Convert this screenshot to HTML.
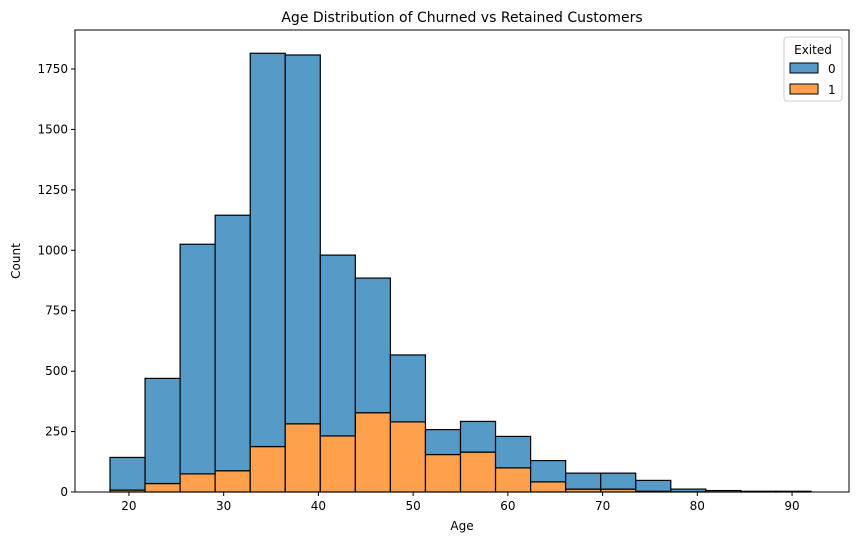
<!DOCTYPE html>
<html><head><meta charset="utf-8"><style>
body{margin:0;background:#fff;font-family:"Liberation Sans","DejaVu Sans",sans-serif;}
svg text{font-family:"DejaVu Sans","Liberation Sans",sans-serif;}
</style></head><body>
<svg id="c" width="859" height="545" xmlns="http://www.w3.org/2000/svg"></svg>
<script>
const binStart = 18, binEnd = 92, binCount = 20;
const retained = [135,435,950,1057,1627,1526,748,557,277,103,127,130,88,66,66,45,11,6,3,3];
const churned = [8,35,75,88,188,282,232,328,290,155,165,100,42,12,12,3,1,0,0,0];
const xTicks = [20,30,40,50,60,70,80,90];
const yTicks = [0,250,500,750,1000,1250,1500,1750];
const L=75,R=849,T=30,B=492;
const xs=v=>110+(v-18)*(811-110)/74;
const ys=v=>B-v*(B-69)/1750;
const svg=document.getElementById('c');const NS='http://www.w3.org/2000/svg';
function mk(t,a,p){const e=document.createElementNS(NS,t);for(const k in a)e.setAttribute(k,a[k]);(p||svg).appendChild(e);return e;}
const w=(binEnd-binStart)/binCount;
for(let i=0;i<binCount;i++){
 const x0=xs(binStart+i*w),x1=xs(binStart+(i+1)*w);
 const c=churned[i],r=retained[i];
 const b1=mk('rect',{x:x0,y:ys(c),width:x1-x0,height:ys(0)-ys(c),fill:'#ffa04d',stroke:'#000','stroke-width':1.2});
 
 
 const b0=mk('rect',{x:x0,y:ys(c+r),width:x1-x0,height:ys(c)-ys(c+r),fill:'#569bc8',stroke:'#000','stroke-width':1.2});
 
 
}
const fr=mk('rect',{x:L,y:T,width:R-L,height:B-T,fill:'none',stroke:'#000','stroke-width':1});


xTicks.forEach(v=>{mk('line',{x1:xs(v),x2:xs(v),y1:B,y2:B+4,stroke:'#000'});
 const t=mk('text',{x:xs(v),y:B+18,'text-anchor':'middle','font-size':12});t.textContent=v;
 
 });
yTicks.forEach(v=>{mk('line',{x1:L-4,x2:L,y1:ys(v),y2:ys(v),stroke:'#000'});
 const t=mk('text',{x:L-7,y:ys(v)+4,'text-anchor':'end','font-size':12});t.textContent=v;
 
 });
</script>
<svg style="position:absolute;left:0;top:0" width="859" height="545" xmlns="http://www.w3.org/2000/svg">
<text x="462" y="22" text-anchor="middle" font-size="14">Age Distribution of Churned vs Retained Customers</text>
<text x="462" y="530" text-anchor="middle" font-size="12">Age</text>
<text x="20" y="261" text-anchor="middle" font-size="12" transform="rotate(-90 20 261)">Count</text>
<g>
<rect x="784" y="37" width="58" height="64" rx="3" fill="#fff" stroke="#ccc"/>
<text x="813" y="54" text-anchor="middle" font-size="12">Exited</text>
<rect x="790" y="63" width="28" height="10" fill="#569bc8" stroke="#000"/>
<text x="828" y="73" font-size="12">0</text>
<rect x="790" y="84" width="28" height="10" fill="#ffa04d" stroke="#000"/>
<text x="828" y="94" font-size="12">1</text>
</g>
</svg>
</body></html>
